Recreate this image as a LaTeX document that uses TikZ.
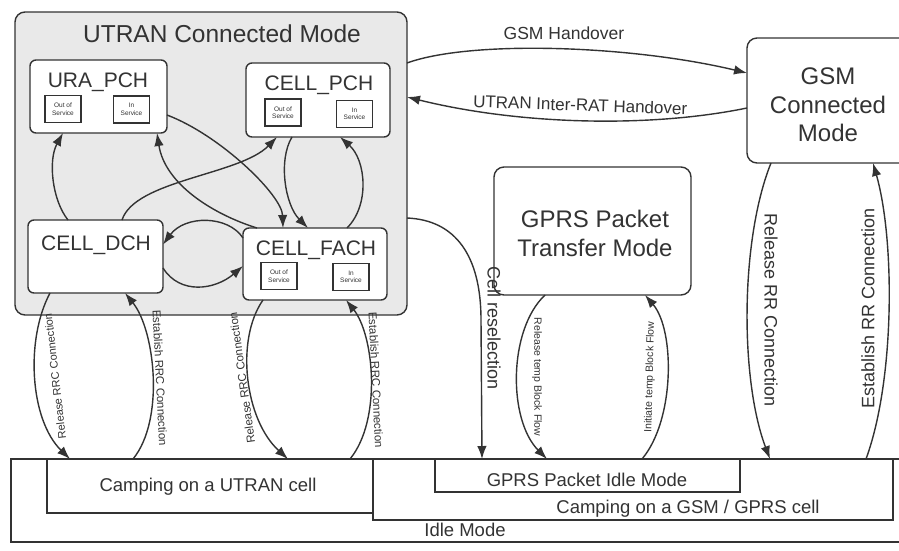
\documentclass[tikz,border=0pt]{standalone}
\usepackage{fontspec}
\setmainfont{Liberation Sans}
\usetikzlibrary{arrows.meta,calc}
\definecolor{ink}{HTML}{333333}
\definecolor{bgray}{HTML}{E9E9E9}
\begin{document}
\begin{tikzpicture}[x=1pt,y=-1pt,
  box/.style={draw=ink,line width=1.4pt,rounded corners=6pt,fill=white,inner sep=0pt,outer sep=0pt},
  bigbox/.style={draw=ink,line width=1.4pt,rounded corners=10pt,inner sep=0pt,outer sep=0pt},
  flat/.style={draw=ink,line width=1.3pt,inner sep=0pt,outer sep=0pt},
  small/.style={draw=ink,line width=1.3pt,fill=white,inner sep=0pt,outer sep=0pt,minimum width=36pt,minimum height=27pt,align=center,text=ink,font=\fontsize{6.5}{7.5}\selectfont},
  arr/.style={draw=ink,line width=1.4pt,-{Latex[length=13pt,width=9.5pt]}},
  txt/.style={inner sep=0pt,text=ink},
  statelbl/.style={txt,anchor=base,font=\fontsize{21}{25}\selectfont},
  biglbl/.style={txt,align=center,font=\fontsize{24}{28.5}\selectfont},
  botlbl/.style={txt,anchor=base,font=\fontsize{18.5}{22}\selectfont},
  arrlbl/.style={txt,font=\fontsize{17.5}{21}\selectfont},
  rrlbl/.style={txt,font=\fontsize{18}{21}\selectfont},
  rrclbl/.style={txt,font=\fontsize{11.5}{13}\selectfont},
  tmplbl/.style={txt,font=\fontsize{10.5}{12}\selectfont}]
\useasboundingbox (0,0) rectangle (899,550);
\clip (0,0) rectangle (899,550);
\fill[white] (0,0) rectangle (899,550);

% UTRAN connected mode
\node[bigbox,fill=bgray,minimum width=392pt,minimum height=303pt] (utran) at (211,163.5) {};
\node[txt,anchor=base,font=\fontsize{24.5}{28}\selectfont] (utitle) at (222,42) {UTRAN Connected Mode};

\node[box,minimum width=137pt,minimum height=73pt] (ura) at (98.5,96.5) {};
\node[box,minimum width=144pt,minimum height=74pt] (cpch) at (318,100) {};
\node[box,minimum width=135pt,minimum height=73pt] (cdch) at (95.5,256.5) {};
\node[box,minimum width=144pt,minimum height=72pt] (cfach) at (315,264) {};

\node[statelbl] (tura) at (98,87) {URA\_PCH};
\node[statelbl] (tcpch) at (319,90) {CELL\_PCH};
\node[statelbl] (tcdch) at (96,250) {CELL\_DCH};
\node[statelbl] (tcfach) at (316,255) {CELL\_FACH};

\node[small] (uraout) at (63,109) {Out of\\Service};
\node[small] (urain) at (131.5,109.5) {In\\Service};
\node[small] (cpchout) at (283,112.5) {Out of\\Service};
\node[small] (cpchin) at (354.5,114) {In\\Service};
\node[small] (cfachout) at (279,276) {Out of\\Service};
\node[small] (cfachin) at (351,277) {In\\Service};

% GSM / GPRS
\node[bigbox,fill=white,minimum width=162pt,minimum height=125pt] (gsm) at (828,100.5) {};
\node[biglbl] (tgsm) at (828,105) {GSM\\Connected\\Mode};
\node[bigbox,fill=white,minimum width=197pt,minimum height=128pt] (gprs) at (592.5,231) {};
\node[biglbl,font=\fontsize{24}{29}\selectfont] (tgprs) at (595,233.5) {GPRS Packet\\Transfer Mode};

% Idle mode
\node[flat,fill=white,minimum width=899pt,minimum height=83pt] (idle) at (460.5,500.5) {};
\node[flat,fill=white,minimum width=326pt,minimum height=54pt] (camputran) at (210,486) {};
\node[flat,fill=white,minimum width=520pt,minimum height=61pt] (campgsm) at (633,489.5) {};
\node[flat,fill=white,minimum width=305pt,minimum height=33pt] (gprsidle) at (587.5,475.5) {};
\node[botlbl] (tcu) at (208,491) {Camping on a UTRAN cell};
\node[botlbl] (tgi) at (587,486) {GPRS Packet Idle Mode};
\node[botlbl] (tcg) at (688,513) {Camping on a GSM / GPRS cell};
\node[botlbl] (tidle) at (465,536) {Idle Mode};

% handovers
\draw[arr] ($(utran.north east)+(0,51)$) .. controls (470,40) and (630,45) .. ($(gsm.north west)+(0,35)$);
\node[arrlbl,anchor=base] (lgh) at (564,39) {GSM Handover};
\draw[arr] ($(gsm.north west)+(0,70)$) .. controls (650,128) and (520,125) .. ($(utran.north east)+(0,85)$);
\node[arrlbl,anchor=base,rotate=-1.9,font=\fontsize{17}{20}\selectfont] (lih) at (580,111) {UTRAN Inter-RAT Handover};

% cell reselection
\draw[arr] ($(utran.north east)+(0,206)$) .. controls (455,220) and (481,255) .. (481,320) -- ($(gprsidle.north west)+(47,0)$);
\node[rrlbl,rotate=-90] (lcr) at (494,328) {Cell reselection};

% GPRS temp block flow
\draw[arr] ($(gprs.south west)+(51,0)$) .. controls (508,330) and (508,420) .. ($(gprsidle.north west)+(112,0)$);
\node[tmplbl,rotate=-90] (lrt) at (537,377) {Release temp Block Flow};
\draw[arr] ($(gprsidle.north west)+(207,0)$) .. controls (675,420) and (675,330) .. ($(gprs.south west)+(151,0)$);
\node[tmplbl,rotate=88.6] (lit) at (650,377) {Initiate temp Block Flow};

% GSM RR
\draw[arr] ($(gsm.south west)+(24,0)$) .. controls (740,240) and (740,380) .. ($(campgsm.north west)+(397,0)$);
\node[rrlbl,rotate=-90] (lrr) at (771,310) {Release RR Connection};
\draw[arr] ($(campgsm.north west)+(493,0)$) .. controls (895,380) and (895,240) .. ($(gsm.south west)+(126,0)$);
\node[rrlbl,rotate=90] (ler) at (868,308) {Establish RR Connection};

% RRC
\draw[arr] ($(cdch.south west)+(22,0)$) .. controls (25,340) and (30,420) .. ($(camputran.north west)+(23,0)$);
\node[rrclbl,rotate=96.5,font=\fontsize{11}{13}\selectfont] (lr1) at (55,376) {Release RRC Connection};
\draw[arr] ($(camputran.north west)+(86,0)$) .. controls (165,420) and (155,330) .. ($(cdch.south west)+(97,0)$);
\node[rrclbl,rotate=-87.2] (le1) at (160,378) {Establish RRC Connection};
\draw[arr] ($(cfach.south west)+(20,0)$) .. controls (235,340) and (245,420) .. ($(camputran.north west)+(241,0)$);
\node[rrclbl,rotate=98] (lr2) at (242,378) {Release RRC Connection};
\draw[arr] ($(camputran.north west)+(303,0)$) .. controls (382,420) and (374,335) .. ($(cfach.south west)+(103,0)$);
\node[rrclbl,rotate=-87.2] (le2) at (376,380) {Establish RRC Connection};

% inside UTRAN
\draw[arr] ($(cdch.north west)+(40,0)$) .. controls (52,200) and (48,160) .. ($(ura.south west)+(33,0)$);
\draw[arr] ($(cdch.north west)+(94,0)$) .. controls (135,180) and (240,175) .. ($(cpch.south west)+(31,0)$);
\draw[arr] ($(ura.east)+(0,18.5)$) .. controls (220,135) and (282,195) .. ($(cfach.north west)+(40,0)$);
\draw[arr] ($(cfach.north west)+(14,0)$) .. controls (215,215) and (165,185) .. ($(ura.south west)+(127,0)$);
\draw[arr] ($(cpch.south west)+(46,0)$) .. controls (278,160) and (285,205) .. ($(cfach.north west)+(65,0)$);
\draw[arr] ($(cfach.north west)+(104,0)$) .. controls (370,205) and (366,160) .. ($(cpch.south west)+(94,0)$);
\draw[arr] ($(cfach.west)+(0,-26)$) .. controls (228,215) and (185,215) .. ($(cdch.east)+(0,-12)$);
\draw[arr] ($(cdch.east)+(0,11.5)$) .. controls (180,295) and (215,290) .. ($(cfach.west)+(0,2)$);
\end{tikzpicture}
\end{document}
